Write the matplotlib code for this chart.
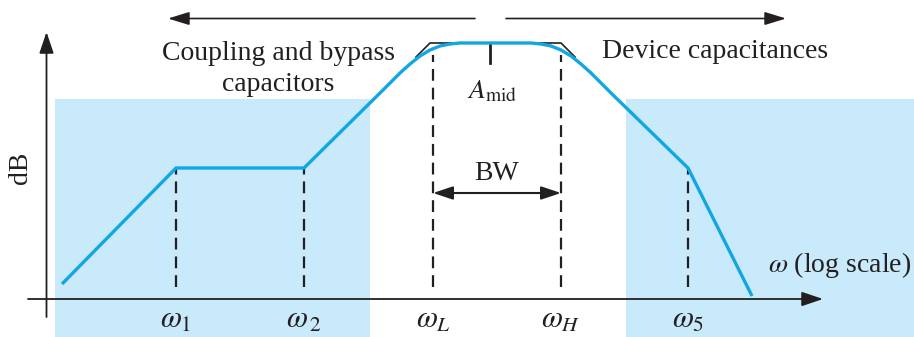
import matplotlib
matplotlib.use("Agg")
import matplotlib.pyplot as plt
from matplotlib.patches import Rectangle

plt.rcParams['font.family'] = ['Liberation Serif', 'DejaVu Serif']
plt.rcParams['mathtext.fontset'] = 'stix'
plt.rcParams['lines.scale_dashes'] = False

# ---- data (x: log-frequency units, y: gain in dB units) ----
curve_x = [62, 176, 304, 380, 390, 400, 410, 420, 430, 440, 450, 460,
           531, 541, 551, 561, 571, 581, 591, 601, 611, 688, 752]
curve_db = [15, 131, 131, 206, 216, 226, 235, 243, 249, 253, 255, 256,
            256, 255, 253, 249, 243, 235, 226, 216, 206, 131, 3]

asym_x = [416, 430, 561, 575]
asym_db = [242, 256, 256, 242]

corner_x = [176, 304, 433, 561, 688]
corner_top_db = [131, 131, 244, 244, 131]
corner_labels = [r'$\omega_1$', r'$\omega_{\,2}$', r'$\omega_L$', r'$\omega_H$', r'$\omega_5$']

shade_spans = [(55, 370), (626, 914)]
shade_top_db = 200

mid_x = 490
mid_db = 256

BLUE = '#12A6E4'
SHADE = '#C8EAFA'
INK = '#231F20'

fig = plt.figure(figsize=(9.14, 3.37), dpi=100)
ax = fig.add_axes([0, 0, 1, 1])
ax.set_xlim(0, 914)
ax.set_ylim(-38, 299)
ax.axis('off')

# shaded regions
for x0, x1 in shade_spans:
    ax.add_patch(Rectangle((x0, -38), x1 - x0, shade_top_db + 38,
                           facecolor=SHADE, edgecolor='none', zorder=0))

# dashed corner lines
for cx, top in zip(corner_x, corner_top_db):
    ax.plot([cx, cx], [12, top], color=INK, lw=1.6,
            dashes=(8.5, 5.0), zorder=2)

# asymptote (black)
ax.plot(asym_x, asym_db, color=INK, lw=1.2, zorder=2)

# response curve
ax.plot(curve_x, curve_db, color=BLUE, lw=2.4, solid_joinstyle='round',
        solid_capstyle='butt', zorder=3)

# A_mid tick
ax.plot([mid_x, mid_x], [mid_db, mid_db - 20], color=INK, lw=2.0, zorder=2)

# axes arrows
ap_axis = dict(arrowstyle='-|>,head_length=0.65,head_width=0.22',
               color=INK, lw=1.3, mutation_scale=20, shrinkA=0, shrinkB=0)
ax.annotate('', xy=(823, 0), xytext=(28, 0), arrowprops=ap_axis)
ax.annotate('', xy=(46.5, 267), xytext=(46.5, -18), arrowprops=ap_axis)

# top direction arrows
ap_top = dict(arrowstyle='-|>,head_length=0.65,head_width=0.2',
              color=INK, lw=1.2, mutation_scale=20, shrinkA=0, shrinkB=0)
ax.annotate('', xy=(168, 280.5), xytext=(475, 280.5), arrowprops=ap_top)
ax.annotate('', xy=(786, 280.5), xytext=(506, 280.5), arrowprops=ap_top)

# BW arrow
ap_bw = dict(arrowstyle='<|-|>,head_length=0.6,head_width=0.2',
             color=INK, lw=1.5, mutation_scale=20, shrinkA=0, shrinkB=0)
ax.annotate('', xy=(561, 106), xytext=(433, 106), arrowprops=ap_bw)

FS = 20
ax.text(278, 239, 'Coupling and bypass', fontsize=FS, ha='center', va='baseline', color=INK)
ax.text(278, 208, 'capacitors', fontsize=FS, ha='center', va='baseline', color=INK)
ax.text(715, 241, 'Device capacitances', fontsize=FS, ha='center', va='baseline', color=INK)
ax.text(492, 201, r'$A_{\mathrm{mid}}$', fontsize=FS, ha='center', va='baseline', color=INK)
ax.text(497, 119, 'BW', fontsize=FS, ha='center', va='baseline', color=INK)
ax.text(911, 27, r'$\omega$ (log scale)', fontsize=FS, ha='right', va='baseline', color=INK)
ax.text(20, 131, 'dB', fontsize=FS, ha='center', va='center', rotation=90, color=INK)

for cx, lab in zip(corner_x, corner_labels):
    ax.text(cx, -29, lab, fontsize=22, ha='center', va='baseline', color=INK)

fig.savefig('out.png', dpi=100)
